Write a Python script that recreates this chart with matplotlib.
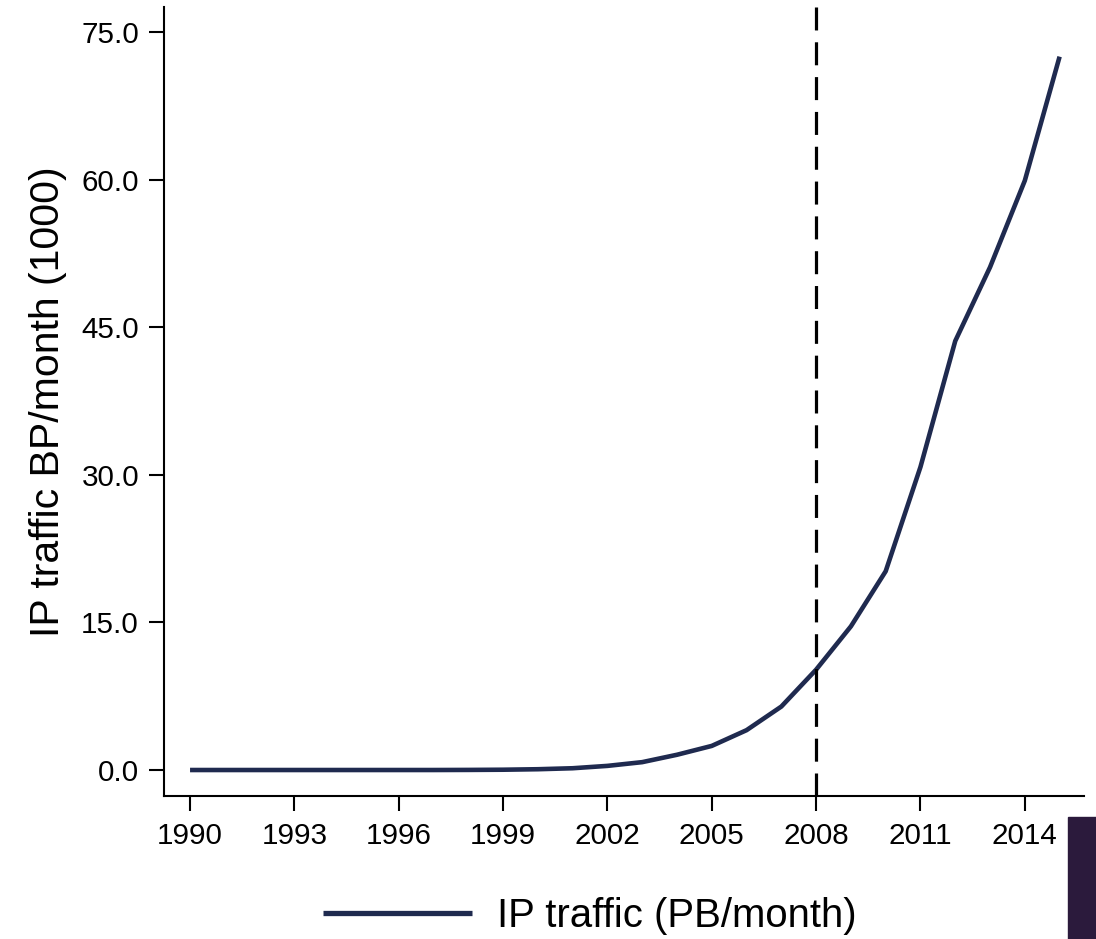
import matplotlib
matplotlib.use("Agg")
import matplotlib.pyplot as plt
from matplotlib.patches import Rectangle

plt.rcParams['font.family'] = ['Liberation Sans', 'DejaVu Sans']

years = list(range(1990, 2016))
traffic = [0.0, 0.0, 0.0, 0.0, 0.0, 0.0, 0.0, 0.0, 0.01, 0.03,
           0.08, 0.18, 0.42, 0.8, 1.55, 2.45, 4.05, 6.45, 10.2, 14.6,
           20.2, 30.8, 43.6, 51.1, 59.9, 72.5]
xticks = list(range(1990, 2015, 3))
yticks = [0, 15, 30, 45, 60, 75]
ytick_labels = ["0.0", "15.0", "30.0", "45.0", "60.0", "75.0"]
vline_year = 2008
series_label = "IP traffic (PB/month)"
ylabel = "IP traffic BP/month (1000)"

fig = plt.figure(figsize=(10.96, 9.39), dpi=100)
ax = fig.add_axes([0.1496, 0.1523, 0.8394, 0.8402])

line_color = "#1f2a4f"
ln, = ax.plot(years, traffic, color=line_color, lw=3.3, label=series_label, solid_capstyle='butt')
ax.axvline(vline_year, color="black", lw=2.3, dashes=(7.2, 3.7))

ax.set_xlim(1989.25, 2015.7)
ax.set_ylim(-2.64, 77.54)
ax.set_xticks(xticks)
ax.set_yticks(yticks)
ax.set_yticklabels(ytick_labels)
ax.tick_params(axis='both', direction='out', length=11, width=1.5, labelsize=21.3)
ax.tick_params(axis='y', pad=7)
ax.tick_params(axis='x', pad=8)
for s in ['top', 'right']:
    ax.spines[s].set_visible(False)
for s in ['left', 'bottom']:
    ax.spines[s].set_linewidth(1.5)
ax.set_ylabel(ylabel, fontsize=29.5, labelpad=10)

leg = fig.legend(handles=[ln], loc='center', bbox_to_anchor=(0.538, 0.024), frameon=False,
                 fontsize=28.9, handlelength=3.7, handletextpad=0.62)
for l in leg.get_lines():
    l.set_linewidth(3.8)

fig.patches.append(Rectangle((1068/1096, 0), 28/1096, 122/939, transform=fig.transFigure,
                             color="#2b1a3c", zorder=5))

fig.savefig("out.png", dpi=100)
